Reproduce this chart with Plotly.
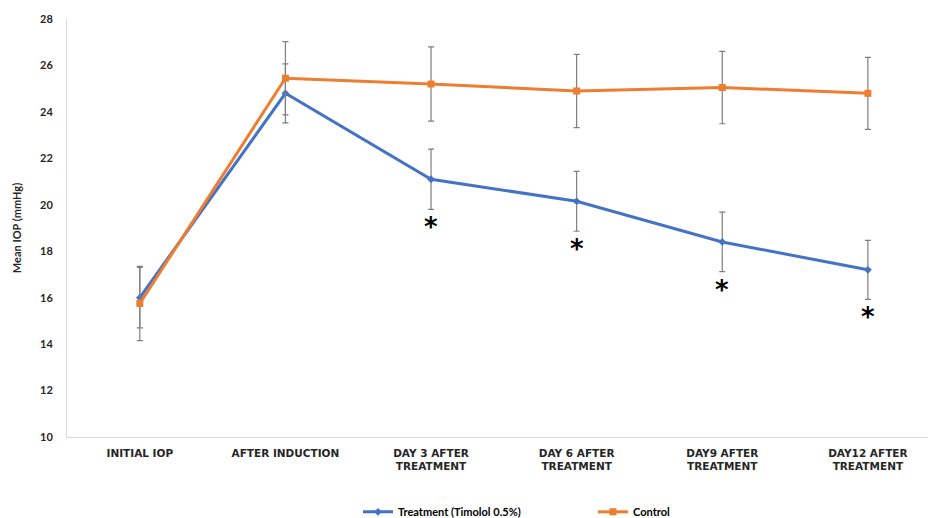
import plotly.graph_objects as go

# Time points of the IOP study
categories = [
    "INITIAL IOP",
    "AFTER INDUCTION",
    "DAY 3 AFTER<br>TREATMENT",
    "DAY 6 AFTER<br>TREATMENT",
    "DAY9 AFTER<br>TREATMENT",
    "DAY12 AFTER<br>TREATMENT",
]

# Mean IOP (mmHg) and standard deviations
treatment_mean = [16.0, 24.8, 21.1, 20.15, 18.4, 17.2]
treatment_sd = [1.3, 1.27, 1.3, 1.29, 1.28, 1.27]
control_mean = [15.75, 25.45, 25.2, 24.9, 25.05, 24.8]
control_sd = [1.6, 1.58, 1.6, 1.58, 1.56, 1.55]

# Time points where treatment differs significantly from control
significant = [False, False, True, True, True, True]

y_ticks = [10, 12, 14, 16, 18, 20, 22, 24, 26, 28]

BLUE = "#4472C4"
ORANGE = "#ED7D31"
ERR = "#7F7F7F"

x_idx = list(range(len(categories)))

fig = go.Figure()

fig.add_trace(go.Scatter(
    x=x_idx, y=treatment_mean,
    name="Treatment (Timolol 0.5%)",
    mode="lines+markers",
    line=dict(color=BLUE, width=3),
    marker=dict(symbol="diamond", size=6, color=BLUE),
    error_y=dict(type="data", array=treatment_sd, visible=True,
                 color=ERR, thickness=1.2, width=3),
))

fig.add_trace(go.Scatter(
    x=x_idx, y=control_mean,
    name="Control",
    mode="lines+markers",
    line=dict(color=ORANGE, width=3),
    marker=dict(symbol="square", size=7, color=ORANGE),
    error_y=dict(type="data", array=control_sd, visible=True,
                 color=ERR, thickness=1.2, width=3),
))

# Significance markers below the lower error bar of the treatment series
for i, sig in enumerate(significant):
    if sig:
        fig.add_annotation(
            x=i, y=treatment_mean[i] - treatment_sd[i],
            text="*", showarrow=False,
            xanchor="center", yanchor="top", yshift=-1,
            font=dict(family="DejaVu Sans", size=26, color="#000000", weight="bold"),
        )

fig.update_layout(
    width=928, height=518,
    margin=dict(l=67, r=0, t=19, b=81, autoexpand=False),
    paper_bgcolor="white",
    plot_bgcolor="white",
    showlegend=True,
    legend=dict(
        orientation="h",
        x=0.338, xanchor="left",
        y=-0.179, yanchor="middle",
        font=dict(family="Lato", size=11, color="#000000", weight="bold"),
        entrywidth=190,
        bgcolor="rgba(0,0,0,0)",
    ),
)

fig.update_xaxes(
    range=[-0.5, 5.413],
    automargin=False,
    tickmode="array",
    tickvals=x_idx,
    ticktext=categories,
    showgrid=False,
    zeroline=False,
    showline=True,
    linecolor="#D9D9D9",
    linewidth=1,
    ticks="",
    ticklabelstandoff=6,
    tickfont=dict(family="DejaVu Sans", size=10.5, color="#262626", weight="bold"),
)

fig.update_yaxes(
    range=[10, 28],
    automargin=False,
    tickmode="array",
    tickvals=y_ticks,
    showgrid=False,
    zeroline=False,
    showline=True,
    linecolor="#D9D9D9",
    linewidth=1,
    ticks="",
    ticklabelstandoff=11,
    tickfont=dict(family="Lato", size=11, color="#262626", weight="bold"),
    title=dict(
        text="Mean IOP (mmHg)",
        font=dict(family="Lato", size=11, color="#262626", weight="bold"),
        standoff=16,
    ),
)

fig.write_html("out.html")
